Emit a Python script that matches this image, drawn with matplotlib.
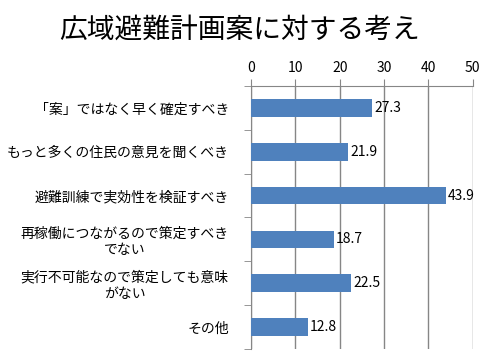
import matplotlib.pyplot as plt
import numpy as np

plt.rcParams['font.family'] = ['Noto Sans CJK JP', 'DejaVu Sans']

# データ
labels = [
    "「案」ではなく早く確定すべき",
    "もっと多くの住民の意見を聞くべき",
    "避難訓練で実効性を検証すべき",
    "再稼働につながるので策定すべき\nでない",
    "実行不可能なので策定しても意味\nがない",
    "その他",
]
values = [27.3, 21.9, 43.9, 18.7, 22.5, 12.8]
xticks = [0, 10, 20, 30, 40, 50]

fig = plt.figure(figsize=(4.8, 3.6), dpi=100)
ax = fig.add_axes([0.523, 0.031, 0.462, 0.730])
fig.suptitle('広域避難計画案に対する考え', x=0.5, y=0.96, fontsize=20)

y = np.arange(len(labels))
ax.barh(y, values, height=0.4, color='#4F81BD', zorder=3)
for yi, v in zip(y, values):
    ax.text(v + 0.5, yi, f'{v}', va='center', ha='left', fontsize=10, zorder=4)

ax.set_xlim(0, 50)
ax.set_ylim(len(labels) - 0.5, -0.5)
ax.xaxis.tick_top()
ax.set_xticks(xticks)
ax.tick_params(axis='x', length=5, color='#868686', labelsize=10, pad=3)
ax.grid(axis='x', color='#868686', linewidth=1, zorder=0)

ax.set_yticks(y)
ax.set_yticklabels(labels, fontsize=10, multialignment='center')
ax.set_yticks(np.arange(len(labels) + 1) - 0.5, minor=True)
ax.tick_params(axis='y', which='major', length=0, pad=16)
ax.tick_params(axis='y', which='minor', length=5, color='#868686')

for s in ['right', 'bottom']:
    ax.spines[s].set_visible(False)
ax.spines['left'].set_color('#868686')
ax.spines['top'].set_color('#868686')

plt.savefig('out.png', dpi=100)
